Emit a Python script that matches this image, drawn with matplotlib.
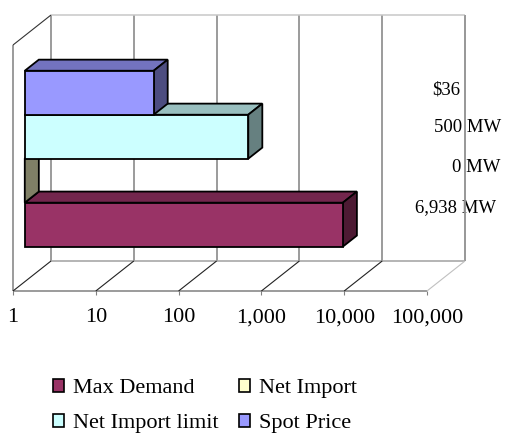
import matplotlib
matplotlib.use("Agg")
import matplotlib.pyplot as plt
import numpy as np
from matplotlib.patches import Polygon, Patch
from matplotlib.lines import Line2D
from matplotlib.transforms import IdentityTransform
from matplotlib.ticker import FuncFormatter, FixedLocator, NullLocator
from matplotlib.colors import to_rgb

# ---- data -------------------------------------------------------------
series = ["Max Demand", "Net Import", "Net Import limit", "Spot Price"]
values = [6938, 0, 500, 36]
value_labels = ["6,938 MW", "0 MW", "500 MW", "$36"]
colors = ["#993366", "#FFFFCC", "#CCFFFF", "#9999FF"]
ticks = [1, 10, 100, 1000, 10000, 100000]

plt.rcParams["font.family"] = ["Liberation Serif", "DejaVu Serif"]

W, H = 507, 436
fig = plt.figure(figsize=(W / 100, H / 100), dpi=100)

# front plane of the 3-D box (pixels, top-left origin)
X0, X1, YB, YT = 13, 427, 291, 45
DX, DY = 38, 30          # depth offset of the back wall
ax = fig.add_axes([X0 / W, (H - YB) / H, (X1 - X0) / W, (YB - YT) / H])
ax.set_xscale("log")
ax.set_xlim(ticks[0], ticks[-1])
ax.set_ylim(0, 1)
ax.set_autoscale_on(False)
ax.patch.set_visible(False)
for s in ax.spines.values():
    s.set_visible(False)
ax.yaxis.set_major_locator(NullLocator())
ax.xaxis.set_major_locator(FixedLocator(ticks))
ax.xaxis.set_minor_locator(NullLocator())
ax.xaxis.set_major_formatter(FuncFormatter(lambda v, p: f"{v:,.0f}"))
ax.tick_params(axis="x", direction="out", length=3, width=0.8, color="#808080",
               labelsize=16, pad=9.5)

ID = IdentityTransform()


def P(v, y, d):
    x, yy = ax.transData.transform((v, y))
    return (x + d * DX, yy + d * DY)


def line(p, q, color, lw, z=1):
    fig.add_artist(Line2D([p[0], q[0]], [p[1], q[1]], color=color, lw=lw,
                          transform=ID, zorder=z, solid_capstyle="butt"))


def poly(pts, fc, z):
    fig.add_artist(Polygon(pts, closed=True, facecolor=fc, edgecolor="black",
                           lw=1.3, transform=ID, zorder=z, joinstyle="miter"))


lo, hi = ticks[0], ticks[-1]
# back wall grid lines and frame
for t in ticks:
    line(P(t, 0, 1), P(t, 1, 1), "#808080", 1.1)
line(P(lo, 1, 1), P(hi, 1, 1), "#c8c8c8", 1.1)
line(P(hi, 0, 1), P(hi, 1, 1), "#999999", 1.1)
line(P(lo, 0, 1), P(hi, 0, 1), "#a0a0a0", 1.1)
# left wall
line(P(lo, 0, 0), P(lo, 1, 0), "#808080", 1.1)
line(P(lo, 1, 0), P(lo, 1, 1), "#333333", 0.8)
# floor
line(P(lo, 0, 0), P(hi, 0, 0), "#808080", 1.1)
for t in ticks:
    c = "#c0c0c0" if t == hi else "#222222"
    line(P(t, 0, 0), P(t, 0, 1), c, 0.8)

# ---- bars -------------------------------------------------------------
n = len(series)
group = 0.715
bh = group / n
f0, f1 = 0.31, 0.68
for i, (v, c) in enumerate(zip(values, colors)):
    v = max(v, lo)
    y0 = 0.5 - group / 2 + i * bh
    y1 = y0 + bh
    base = np.array(to_rgb(c))
    top_c = base * 0.75
    side_c = base * 0.5
    z = 3 + i
    # top face
    poly([P(lo, y1, f0), P(v, y1, f0), P(v, y1, f1), P(lo, y1, f1)], top_c, z)
    # right side face
    poly([P(v, y0, f0), P(v, y0, f1), P(v, y1, f1), P(v, y1, f0)], side_c, z)
    # front face
    if v > lo:
        poly([P(lo, y0, f0), P(v, y0, f0), P(v, y1, f0), P(lo, y1, f0)], c, z)

# value labels beside the back wall
label_pos = [(1.070, 0.341), (1.118, 0.504), (1.097, 0.663), (1.046, 0.817)]
for (lx, ly), txt in zip(label_pos, value_labels):
    ax.text(lx, ly, txt, transform=ax.transAxes, ha="center", va="center",
            fontsize=13.5, clip_on=False, zorder=10)

# ---- legend -----------------------------------------------------------
order = [0, 2, 1, 3]
handles = [Patch(facecolor=colors[k], edgecolor="black", lw=1.2) for k in order]
fig.legend(handles, [series[k] for k in order], ncol=2, loc="upper left",
           bbox_to_anchor=(53 / W, 1 - 379 / H), frameon=False, fontsize=16,
           borderpad=0, borderaxespad=0, handlelength=0.5, handleheight=0.5,
           handletextpad=0.4, columnspacing=0.9, labelspacing=0.72)

fig.savefig("out.png", dpi=100)
